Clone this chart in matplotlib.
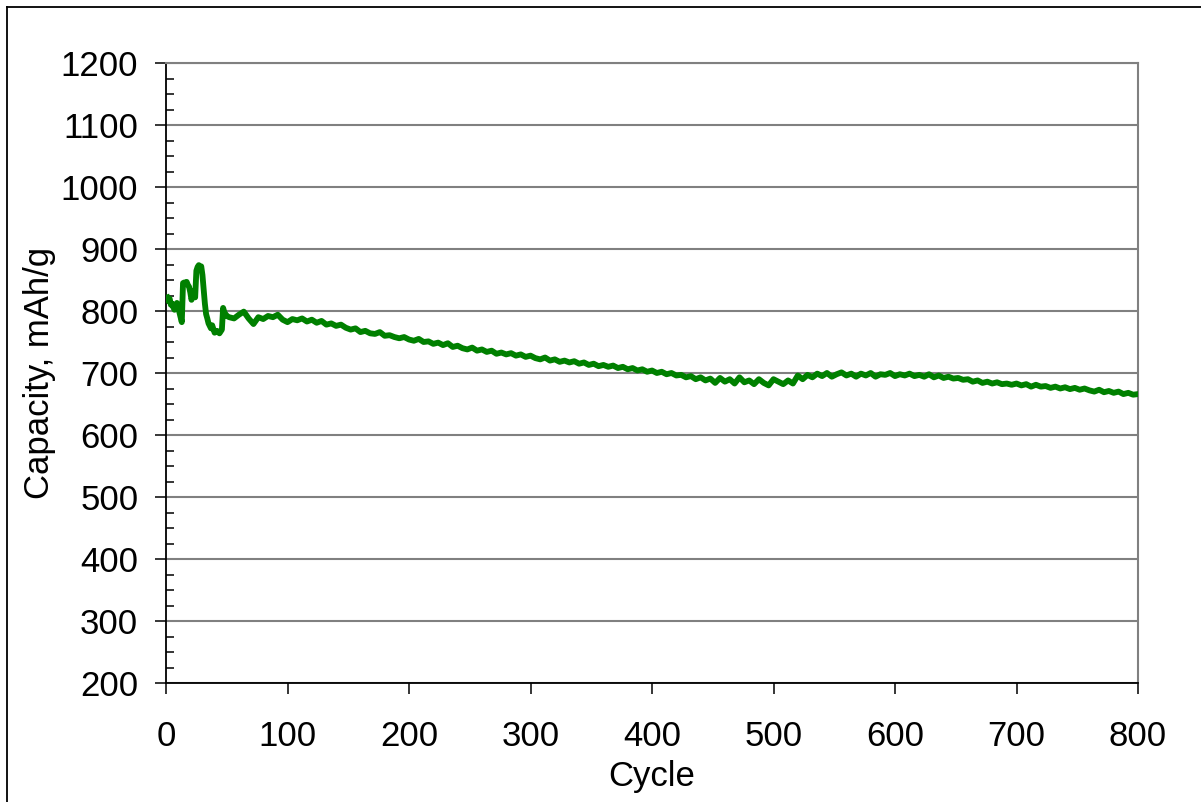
import numpy as np
import matplotlib
matplotlib.use('Agg')
import matplotlib.pyplot as plt
from matplotlib.lines import Line2D
from matplotlib.ticker import MultipleLocator

# --- data ---
# first 50 cycles (irregular start)
early_cycles = list(range(1, 39)) + [40, 42, 44, 46, 47, 48, 50]
early_capacity = [822, 816, 820, 810, 812, 806, 802, 808, 813, 806,
                  798, 790, 782, 845, 846, 844, 847, 842, 839, 830,
                  818, 826, 832, 822, 865, 871, 874, 868, 872, 858,
                  835, 812, 795, 788, 780, 776, 772, 777,
                  765, 768, 764, 770, 805, 798, 792]

# cycles 52..800, every 4th cycle
late_cycles = list(range(52, 801, 4))
late_capacity = [790, 788, 794, 799, 788, 779, 790, 787, 792, 790,
                 794, 786, 782, 787, 785, 788, 783, 786, 781, 784,
                 778, 780, 776, 778, 773, 770, 772, 766, 768, 764,
                 763, 766, 760, 761, 758, 756, 758, 754, 752, 755,
                 750, 751, 747, 749, 745, 748, 742, 744, 740, 738,
                 741, 736, 738, 734, 736, 731, 733, 730, 732, 728,
                 730, 726, 728, 724, 722, 725, 720, 722, 718, 720,
                 717, 719, 715, 717, 713, 715, 711, 713, 710, 712,
                 708, 710, 706, 708, 704, 706, 702, 704, 700, 702,
                 698, 700, 696, 697, 693, 695, 690, 693, 688, 691,
                 684, 692, 686, 690, 683, 693, 685, 688, 682, 690,
                 684, 680, 690, 686, 682, 688, 683, 696, 690, 697,
                 693, 699, 695, 700, 694, 698, 701, 696, 699, 694,
                 699, 696, 700, 694, 698, 697, 700, 695, 698, 696,
                 699, 695, 697, 694, 698, 693, 696, 692, 694, 691,
                 692, 689, 690, 686, 688, 684, 686, 683, 685, 682,
                 683, 681, 683, 680, 682, 678, 681, 678, 679, 676,
                 678, 675, 677, 674, 676, 673, 675, 672, 670, 673,
                 669, 671, 668, 670, 666, 668, 665, 666]

cycles = early_cycles + late_cycles
capacity = early_capacity + late_capacity

x_ticks = [0, 100, 200, 300, 400, 500, 600, 700, 800]
y_ticks = [200, 300, 400, 500, 600, 700, 800, 900, 1000, 1100, 1200]

plt.rcParams['font.family'] = ['Liberation Sans', 'DejaVu Sans']
FS = 25

fig = plt.figure(figsize=(12.01, 8.02), dpi=100)
ax = fig.add_axes([166/1201, 1 - 683/802, 972/1201, 620/802])

ax.plot(cycles, capacity, color='#008000', lw=4.2, solid_joinstyle='round', zorder=3)

ax.set_xlim(0, 800)
ax.set_ylim(200, 1200)
ax.set_xticks(x_ticks)
ax.set_yticks(y_ticks)
ax.yaxis.set_minor_locator(MultipleLocator(25))
ax.grid(axis='y', which='major', color='#808080', lw=1.5, zorder=1)

ax.tick_params(axis='both', which='major', direction='out', length=8, width=1.1,
               color='black', labelsize=FS)
ax.tick_params(axis='x', which='major', pad=19)
ax.tick_params(axis='y', which='major', pad=12)
ax.tick_params(axis='y', which='minor', direction='in', length=6, width=1.1, color='black')

for side in ['left', 'bottom']:
    ax.spines[side].set_color('black')
    ax.spines[side].set_linewidth(1.3)
for side in ['top', 'right']:
    ax.spines[side].set_color('#808080')
    ax.spines[side].set_linewidth(1.5)

ax.set_xlabel('Cycle', fontsize=FS)
ax.set_ylabel('Capacity, mAh/g', fontsize=FS)
ax.xaxis.set_label_coords(0.5, -0.124)
ax.yaxis.set_label_coords(-0.113, 0.5)

# outer chart frame (left and top edges visible)
fig.add_artist(Line2D([7/1201, 7/1201], [0, 1 - 7/802], transform=fig.transFigure,
                      color='black', lw=1.3))
fig.add_artist(Line2D([7/1201, 1], [1 - 7/802, 1 - 7/802], transform=fig.transFigure,
                      color='black', lw=1.3))

fig.savefig('out.png', dpi=100)
